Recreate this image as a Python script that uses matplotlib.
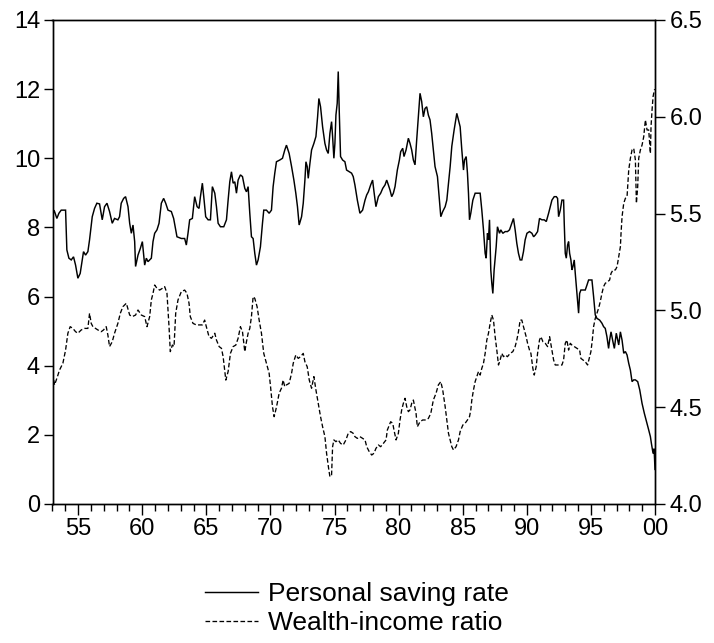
import matplotlib
matplotlib.use("Agg")
import matplotlib.pyplot as plt
from matplotlib.ticker import MultipleLocator, FixedLocator

plt.rcParams['font.family'] = ['Liberation Sans', 'DejaVu Sans']

# ---- Personal saving rate (left axis, %) ----
sr_years = [1953.00, 1953.08, 1953.16, 1953.34, 1953.50, 1953.68, 1954.02, 1954.12, 1954.28, 1954.46,
            1954.64, 1954.80, 1954.98, 1955.16, 1955.32, 1955.42, 1955.58, 1955.76, 1955.89, 1956.10,
            1956.28, 1956.46, 1956.67, 1956.88, 1957.06, 1957.25, 1957.45, 1957.66, 1957.84, 1958.10,
            1958.23, 1958.36, 1958.55, 1958.70, 1958.89, 1959.02, 1959.15, 1959.28, 1959.41, 1959.48,
            1959.67, 1959.85, 1960.01, 1960.19, 1960.32, 1960.45, 1960.58, 1960.71,
            1960.84, 1960.97, 1961.15, 1961.31, 1961.49, 1961.67, 1961.83, 1962.01, 1962.27, 1962.45,
            1962.61, 1962.71, 1963.05, 1963.31, 1963.44, 1963.57, 1963.70, 1963.91, 1964.09, 1964.28,
            1964.43, 1964.54, 1964.69, 1964.80, 1964.95, 1965.14, 1965.32, 1965.47, 1965.66, 1965.79,
            1965.92, 1966.10, 1966.36, 1966.57, 1966.70, 1966.83, 1966.96, 1967.09, 1967.22, 1967.35,
            1967.48, 1967.66, 1967.82, 1968.00, 1968.13, 1968.26, 1968.39, 1968.52,
            1968.65, 1968.78, 1968.91, 1969.04, 1969.22, 1969.38, 1969.48, 1969.69, 1969.90, 1970.08,
            1970.21, 1970.34, 1970.47, 1970.73, 1970.94, 1971.12, 1971.25, 1971.46, 1971.65, 1971.83,
            1971.98, 1972.11, 1972.24, 1972.43, 1972.56, 1972.69, 1972.77, 1972.87, 1972.95, 1973.08,
            1973.21, 1973.39, 1973.55, 1973.68, 1973.78, 1973.91, 1974.07, 1974.25, 1974.38, 1974.51,
            1974.64, 1974.77, 1974.85, 1974.95, 1975.03, 1975.11, 1975.21, 1975.29, 1975.37, 1975.47,
            1975.63, 1975.81, 1975.94, 1976.15, 1976.33, 1976.46,
            1976.59, 1976.78, 1976.98, 1977.19, 1977.38, 1977.51, 1977.64, 1977.82, 1977.97, 1978.08,
            1978.23, 1978.42, 1978.60, 1978.76, 1978.94, 1979.07, 1979.20, 1979.33, 1979.46, 1979.59,
            1979.72, 1979.90, 1980.06, 1980.16, 1980.32, 1980.42, 1980.58, 1980.76, 1980.89, 1981.02,
            1981.15, 1981.28, 1981.41, 1981.54, 1981.67, 1981.80, 1981.93, 1982.06, 1982.19, 1982.32,
            1982.45, 1982.58, 1982.71, 1982.84, 1983.03, 1983.18, 1983.29, 1983.44, 1983.63, 1983.76,
            1983.89, 1984.02, 1984.15, 1984.33,
            1984.54, 1984.67, 1984.80, 1984.93, 1985.06, 1985.14, 1985.27, 1985.37, 1985.45, 1985.53,
            1985.63, 1985.79, 1985.97, 1986.36, 1986.49, 1986.62, 1986.75, 1986.83, 1986.93, 1987.01,
            1987.09, 1987.19, 1987.27, 1987.35, 1987.45, 1987.61, 1987.71, 1987.87, 1987.97, 1988.13,
            1988.31, 1988.49, 1988.65, 1988.83, 1988.96, 1989.09, 1989.22, 1989.35, 1989.48, 1989.61,
            1989.74, 1989.87, 1990.01, 1990.21, 1990.40, 1990.53, 1990.66, 1990.84, 1990.99, 1991.18,
            1991.36, 1991.52, 1991.70, 1991.83, 1991.96, 1992.14,
            1992.30, 1992.40, 1992.48, 1992.61, 1992.74, 1992.87, 1992.92, 1993.00, 1993.08, 1993.18,
            1993.26, 1993.34, 1993.44, 1993.52, 1993.60, 1993.70, 1993.78, 1993.91, 1994.04, 1994.12,
            1994.22, 1994.38, 1994.56, 1994.69, 1994.82, 1995.08, 1995.21, 1995.34, 1995.47, 1995.68,
            1995.86, 1995.99, 1996.12, 1996.25, 1996.38, 1996.46, 1996.57, 1996.72, 1996.83, 1996.98,
            1997.17, 1997.30, 1997.43, 1997.56, 1997.69, 1997.82, 1997.95, 1998.08, 1998.21, 1998.34,
            1998.47, 1998.65, 1998.81, 1998.99, 1999.17, 1999.38, 1999.51, 1999.64, 1999.72, 1999.85,
            1999.93, 2000.00]
saving_rate = [7.97, 8.50, 8.46, 8.26, 8.41, 8.50, 8.50, 7.35, 7.11, 7.06,
               7.15, 6.91, 6.53, 6.67, 7.06, 7.30, 7.20, 7.30, 7.64, 8.31,
               8.55, 8.70, 8.68, 8.22, 8.60, 8.70, 8.46, 8.12, 8.26, 8.22,
               8.31, 8.70, 8.84, 8.89, 8.60, 8.12, 7.83, 8.07, 7.59, 6.87,
               7.20, 7.39, 7.59, 6.91, 7.11, 7.01, 7.06, 7.11,
               7.59, 7.83, 7.93, 8.12, 8.70, 8.84, 8.70, 8.50, 8.46, 8.26,
               7.93, 7.73, 7.68, 7.68, 7.49, 7.83, 8.22, 8.26, 8.89, 8.60,
               8.55, 8.89, 9.28, 8.89, 8.31, 8.22, 8.22, 9.18, 8.99, 8.60,
               8.12, 8.02, 8.02, 8.22, 8.79, 9.32, 9.61, 9.28, 9.32, 8.99,
               9.37, 9.52, 9.47, 9.13, 9.03, 9.18, 8.41, 7.73,
               7.68, 7.25, 6.91, 7.06, 7.44, 8.12, 8.50, 8.50, 8.41, 8.50,
               9.18, 9.57, 9.90, 9.95, 10.00, 10.24, 10.38, 10.14, 9.76, 9.37,
               8.99, 8.60, 8.07, 8.31, 8.70, 9.37, 9.90, 9.76, 9.42, 9.85,
               10.24, 10.43, 10.63, 11.20, 11.73, 11.49, 10.91, 10.43, 10.24, 10.14,
               10.72, 11.06, 10.63, 10.00, 10.43, 11.25, 11.59, 12.51, 11.35, 10.05,
               9.95, 9.90, 9.66, 9.61, 9.57, 9.47,
               9.23, 8.79, 8.41, 8.50, 8.79, 8.94, 9.03, 9.23, 9.37, 9.03,
               8.60, 8.89, 8.99, 9.13, 9.23, 9.37, 9.23, 9.08, 8.89, 8.99,
               9.18, 9.66, 9.95, 10.19, 10.29, 10.05, 10.24, 10.58, 10.43, 10.24,
               9.95, 9.81, 10.53, 11.20, 11.88, 11.64, 11.20, 11.44, 11.49, 11.25,
               11.11, 10.72, 10.24, 9.76, 9.47, 8.79, 8.31, 8.46, 8.60, 8.79,
               9.28, 9.76, 10.35, 10.82,
               11.30, 11.11, 10.91, 10.24, 9.66, 9.95, 10.05, 9.57, 8.99, 8.22,
               8.41, 8.79, 8.99, 8.99, 8.50, 7.93, 7.25, 7.11, 7.83, 7.64,
               8.22, 6.77, 6.38, 6.09, 6.77, 7.44, 8.02, 7.83, 7.93, 7.83,
               7.88, 7.88, 7.93, 8.12, 8.26, 7.93, 7.54, 7.25, 7.06, 7.06,
               7.30, 7.64, 7.83, 7.88, 7.83, 7.73, 7.78, 7.88, 8.26, 8.22,
               8.22, 8.17, 8.41, 8.60, 8.79, 8.89,
               8.89, 8.84, 8.31, 8.50, 8.79, 8.79, 8.12, 7.25, 7.11, 7.49,
               7.59, 7.25, 7.06, 6.77, 6.87, 7.06, 6.67, 6.09, 5.52, 6.09,
               6.19, 6.19, 6.19, 6.33, 6.48, 6.48, 6.00, 5.47, 5.37, 5.32,
               5.23, 5.13, 5.08, 4.84, 4.50, 4.74, 4.98, 4.69, 4.50, 4.94,
               4.60, 4.98, 4.74, 4.36, 4.41, 4.31, 4.07, 3.87, 3.54, 3.59,
               3.59, 3.54, 3.30, 2.91, 2.62, 2.33, 2.14, 1.95, 1.75, 1.46,
               1.60, 1.00]

# ---- Wealth-income ratio (right axis) ----
wi_years = [1953.00, 1953.16, 1953.34, 1953.55, 1953.81, 1954.02, 1954.20, 1954.38, 1954.59, 1954.80,
            1954.98, 1955.24, 1955.50, 1955.76, 1955.89, 1956.02, 1956.15, 1956.36, 1956.54, 1956.80,
            1956.98, 1957.19, 1957.32, 1957.45, 1957.66, 1957.84, 1958.10, 1958.29, 1958.49, 1958.76,
            1959.02, 1959.22, 1959.48, 1959.67, 1959.93, 1960.19, 1960.37, 1960.58, 1960.71,
            1960.84, 1960.97, 1961.15, 1961.36, 1961.57, 1961.75, 1961.93, 1962.09, 1962.19, 1962.35,
            1962.48, 1962.61, 1962.79, 1963.05, 1963.31, 1963.49, 1963.65, 1963.75, 1963.96, 1964.22,
            1964.43, 1964.69, 1964.87, 1965.00, 1965.21, 1965.40, 1965.66, 1965.79, 1966.00, 1966.18,
            1966.31, 1966.52, 1966.70, 1966.88, 1967.09, 1967.30, 1967.48, 1967.66, 1967.82, 1968.00,
            1968.13, 1968.26, 1968.39, 1968.52, 1968.65,
            1968.78, 1968.96, 1969.12, 1969.30, 1969.48, 1969.69, 1969.90, 1970.01, 1970.16, 1970.29,
            1970.42, 1970.53, 1970.68, 1970.86, 1970.99, 1971.12, 1971.25, 1971.46, 1971.65, 1971.78,
            1971.98, 1972.17, 1972.35, 1972.56, 1972.69, 1972.87, 1973.03, 1973.21, 1973.39, 1973.55,
            1973.73, 1973.91, 1974.07, 1974.25, 1974.38, 1974.54, 1974.64, 1974.77, 1974.85, 1974.95,
            1975.11, 1975.29, 1975.47, 1975.68, 1975.89, 1976.07, 1976.26, 1976.46,
            1976.59, 1976.78, 1976.98, 1977.19, 1977.38, 1977.51, 1977.71, 1977.90, 1978.08, 1978.23,
            1978.42, 1978.60, 1978.81, 1979.02, 1979.12, 1979.28, 1979.38, 1979.54, 1979.64, 1979.80,
            1979.98, 1980.11, 1980.24, 1980.37, 1980.50, 1980.63, 1980.76, 1980.89, 1981.02, 1981.15,
            1981.36, 1981.46, 1981.67, 1981.88, 1982.14, 1982.32, 1982.51, 1982.71, 1982.92, 1983.10,
            1983.29, 1983.44, 1983.63, 1983.76, 1983.89, 1984.02, 1984.15, 1984.28,
            1984.48, 1984.67, 1984.80, 1985.01, 1985.19, 1985.37, 1985.53, 1985.63, 1985.71, 1985.84,
            1985.97, 1986.10, 1986.23, 1986.36, 1986.49, 1986.62, 1986.75, 1986.88, 1987.01, 1987.14,
            1987.27, 1987.40, 1987.53, 1987.66, 1987.79, 1987.92, 1988.05, 1988.18, 1988.31, 1988.49,
            1988.70, 1988.91, 1989.09, 1989.22, 1989.35, 1989.48, 1989.61, 1989.74, 1989.95, 1990.06,
            1990.21, 1990.32, 1990.47, 1990.58, 1990.73, 1990.84, 1990.99, 1991.10, 1991.26, 1991.44,
            1991.62, 1991.78, 1991.96, 1992.09,
            1992.22, 1992.48, 1992.74, 1992.87, 1993.00, 1993.13, 1993.26, 1993.39, 1993.52, 1993.70,
            1993.91, 1994.12, 1994.22, 1994.38, 1994.56, 1994.74, 1994.90, 1995.00, 1995.11, 1995.21,
            1995.34, 1995.47, 1995.60, 1995.73, 1995.86, 1995.99, 1996.12, 1996.31, 1996.46, 1996.57,
            1996.72, 1996.91, 1997.04, 1997.17, 1997.30, 1997.35, 1997.43, 1997.56, 1997.69, 1997.82,
            1997.95, 1998.08, 1998.21, 1998.34, 1998.47, 1998.55, 1998.65, 1998.73, 1998.86, 1998.99,
            1999.12, 1999.25, 1999.38, 1999.51, 1999.64, 1999.69, 1999.77, 1999.85, 1999.95, 2000.00]
wealth_income = [4.675, 4.615, 4.649, 4.692, 4.727, 4.795, 4.882, 4.916, 4.907, 4.890,
                 4.882, 4.899, 4.907, 4.907, 4.985, 4.933, 4.916, 4.907, 4.899, 4.890,
                 4.899, 4.916, 4.873, 4.813, 4.838, 4.882, 4.933, 4.985, 5.019, 5.037,
                 4.976, 4.968, 4.976, 5.002, 4.976, 4.968, 4.916, 4.968, 5.054,
                 5.088, 5.131, 5.114, 5.105, 5.114, 5.123, 5.088, 4.916, 4.787, 4.821,
                 4.813, 4.985, 5.054, 5.097, 5.105, 5.088, 5.037, 4.968, 4.933, 4.925,
                 4.925, 4.925, 4.950, 4.916, 4.864, 4.856, 4.882, 4.847, 4.813, 4.804,
                 4.761, 4.640, 4.684, 4.778, 4.813, 4.821, 4.856, 4.916, 4.890, 4.787,
                 4.838, 4.882, 4.907, 4.968, 5.071,
                 5.062, 5.019, 4.950, 4.882, 4.778, 4.727, 4.675, 4.606, 4.503, 4.451,
                 4.486, 4.520, 4.572, 4.598, 4.640, 4.606, 4.615, 4.623, 4.675, 4.727,
                 4.770, 4.752, 4.761, 4.778, 4.735, 4.709, 4.640, 4.598, 4.658, 4.589,
                 4.520, 4.451, 4.399, 4.348, 4.262, 4.184, 4.141, 4.150, 4.296, 4.331,
                 4.322, 4.331, 4.313, 4.305, 4.331, 4.365, 4.374, 4.365,
                 4.348, 4.339, 4.348, 4.339, 4.331, 4.296, 4.270, 4.253, 4.262, 4.287,
                 4.305, 4.296, 4.313, 4.331, 4.382, 4.408, 4.425, 4.417, 4.382, 4.331,
                 4.365, 4.434, 4.486, 4.520, 4.546, 4.503, 4.477, 4.486, 4.520, 4.537,
                 4.468, 4.399, 4.425, 4.434, 4.434, 4.442, 4.468, 4.537, 4.572, 4.615,
                 4.632, 4.589, 4.503, 4.434, 4.365, 4.331, 4.296, 4.279,
                 4.296, 4.331, 4.374, 4.408, 4.417, 4.434, 4.451, 4.486, 4.537, 4.589,
                 4.632, 4.658, 4.684, 4.666, 4.701, 4.727, 4.778, 4.847, 4.882, 4.933,
                 4.976, 4.950, 4.864, 4.795, 4.718, 4.744, 4.778, 4.761, 4.770, 4.761,
                 4.778, 4.787, 4.813, 4.847, 4.890, 4.950, 4.950, 4.916, 4.864, 4.830,
                 4.795, 4.778, 4.701, 4.666, 4.709, 4.778, 4.847, 4.864, 4.838, 4.830,
                 4.813, 4.864, 4.795, 4.744,
                 4.718, 4.718, 4.718, 4.744, 4.830, 4.847, 4.795, 4.830, 4.821, 4.813,
                 4.804, 4.795, 4.752, 4.744, 4.735, 4.718, 4.761, 4.787, 4.847, 4.916,
                 4.959, 4.985, 5.011, 5.045, 5.088, 5.123, 5.140, 5.148, 5.157, 5.191,
                 5.209, 5.209, 5.226, 5.278, 5.329, 5.398, 5.484, 5.553, 5.579, 5.588,
                 5.725, 5.786, 5.829, 5.837, 5.777, 5.553, 5.639, 5.786, 5.829, 5.854,
                 5.897, 5.984, 5.932, 5.932, 5.811, 5.949, 6.035, 6.104, 6.138, 6.142]

major_years = [1955, 1960, 1965, 1970, 1975, 1980, 1985, 1990, 1995, 2000]
major_labels = ['55', '60', '65', '70', '75', '80', '85', '90', '95', '00']
left_ticks = [0, 2, 4, 6, 8, 10, 12, 14]
right_ticks = [4.0, 4.5, 5.0, 5.5, 6.0, 6.5]

FS = 17
fig = plt.figure(figsize=(7.14, 6.43), dpi=100)
ax = fig.add_axes([52.5 / 714, (643 - 504) / 643, (655 - 52.5) / 714, 484 / 643])
ax2 = ax.twinx()

l1, = ax.plot(sr_years, saving_rate, color='black', lw=1.05, solid_joinstyle='miter')
l2, = ax2.plot(wi_years, wealth_income, color='black', lw=0.95,
               linestyle=(0, (3.5, 1.8)))

ax.set_xlim(1953, 2000)
ax.set_ylim(0, 14)
ax2.set_ylim(4.0, 6.5)

ax.xaxis.set_major_locator(FixedLocator(major_years))
ax.set_xticklabels(major_labels)
ax.xaxis.set_minor_locator(MultipleLocator(1))
ax.set_yticks(left_ticks)
ax.set_yticklabels([str(t) for t in left_ticks])
ax2.set_yticks(right_ticks)
ax2.set_yticklabels([f'{t:.1f}' for t in right_ticks])

ax.tick_params(axis='y', which='major', direction='out', length=6.5, width=1.0,
               labelsize=FS, pad=2.5)
ax.tick_params(axis='x', which='major', direction='out', length=8, width=1.0,
               labelsize=FS, pad=2)
ax.tick_params(axis='x', which='minor', direction='out', length=5, width=1.0)
ax2.tick_params(axis='y', which='major', direction='out', length=7, width=1.0,
                labelsize=FS, pad=3.5)

for a in (ax, ax2):
    for s in a.spines.values():
        s.set_linewidth(1.0)

fig.legend([l1, l2], ['Personal saving rate', 'Wealth-income ratio'],
           loc='upper left', bbox_to_anchor=(205 / 714, 1 - 582 / 643),
           frameon=False, fontsize=19, handlelength=2.0, handletextpad=0.4,
           labelspacing=0.2, borderpad=0, borderaxespad=0)

fig.savefig('out.png', dpi=100)
